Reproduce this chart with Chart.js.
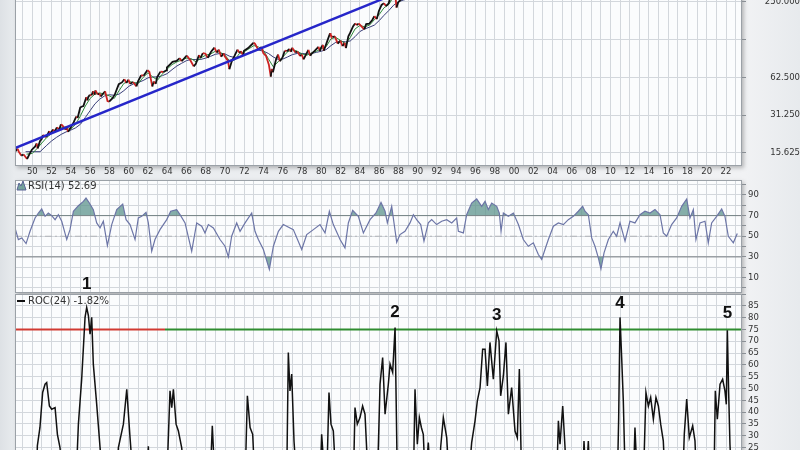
<!DOCTYPE html>
<html>
<head>
<meta charset="utf-8">
<script src="https://cdn.jsdelivr.net/npm/chart.js@4.4.0/dist/chart.umd.min.js"></script>
<style>
  html, body { margin: 0; padding: 0; }
  body {
    width: 800px; height: 450px; overflow: hidden; position: relative;
    background: linear-gradient(to right, #dde1e5 0px, #e8ebee 14px, #f1f2f4 745px, #e7eaed 800px);
  }
  canvas { position: absolute; left: 0; }
  #priceCanvas { top: -50px; }
  #rsiCanvas { top: 170px; }
  #rocCanvas { top: 270px; }
</style>
</head>
<body>
<canvas id="priceCanvas" width="800" height="230"></canvas>
<canvas id="rsiCanvas" width="800" height="130"></canvas>
<canvas id="rocCanvas" width="800" height="260"></canvas>
<script>
// ---------- data (S&P 500, log scale) ----------
var priceYears = [1948.20,1948.45,1948.60,1948.85,1949.10,1949.45,1949.70,1949.95,1950.30,1950.45,1950.55,1950.80,1950.97,
  1951.10,1951.45,1951.75,1951.90,1952.15,1952.35,1952.55,1952.80,1952.97,1953.10,1953.45,1953.60,1953.72,1953.97,
  1954.30,1954.55,1954.70,1954.97,1955.10,1955.30,1955.60,1955.72,1955.80,1955.97,1956.15,1956.30,1956.45,1956.55,1956.80,1956.97,
  1957.10,1957.55,1957.80,1957.97,1958.30,1958.55,1958.97,1959.30,1959.55,1959.75,1959.97,1960.15,1960.45,1960.80,1960.97,
  1961.30,1961.55,1961.95,1962.15,1962.45,1962.60,1962.80,1962.97,1963.30,1963.60,1963.90,1963.97,1964.30,1964.55,1964.97,
  1965.30,1965.50,1965.97,1966.05,1966.40,1966.75,1966.97,1967.30,1967.45,1967.70,1967.97,1968.20,1968.55,1968.90,
  1969.15,1969.35,1969.60,1969.85,1969.97,1970.30,1970.45,1970.70,1970.97,1971.30,1971.50,1971.65,1971.90,1971.97,
  1972.40,1972.60,1972.97,1973.10,1973.45,1973.80,1973.97,1974.25,1974.55,1974.75,1974.85,1974.97,1975.30,1975.50,1975.70,1975.97,
  1976.20,1976.40,1976.70,1976.85,1976.97,1977.30,1977.50,1977.80,1977.97,1978.15,1978.65,1978.85,1978.97,
  1979.30,1979.70,1979.85,1979.97,1980.15,1980.25,1980.60,1980.90,1980.97,1981.15,1981.40,1981.70,1981.97,
  1982.20,1982.40,1982.55,1982.80,1982.97,1983.30,1983.50,1983.70,1983.85,1983.97,1984.45,1984.65,1984.97,
  1985.30,1985.50,1985.75,1985.97,1986.25,1986.50,1986.70,1986.97,1987.30,1987.60,1987.80,1987.97,
  1988.45,1988.90,1989.50,1989.95,1990.45,1990.80,1990.97,1991.95];
var priceValues = [15.9,16.9,16.0,14.9,15.2,14.0,15.3,16.6,17.6,18.6,17.0,19.5,20.2,
  21.7,20.9,23.3,22.4,24.0,23.3,25.0,24.1,26.4,26.0,24.0,24.7,23.0,24.8,
  27.5,30.5,29.7,35.9,36.5,37.0,43.5,41.0,43.5,45.4,45.0,48.5,45.5,49.3,45.6,46.6,
  44.0,48.5,40.5,40.0,42.5,45.5,55.2,57.0,60.5,56.5,59.9,55.5,57.5,53.0,58.1,
  65.0,64.5,71.5,69.0,53.0,58.0,55.5,63.1,69.5,69.0,71.0,75.0,79.5,83.0,84.7,
  89.0,84.0,92.4,93.0,85.5,76.5,80.3,94.0,89.5,97.5,96.5,89.5,100.0,108.0,
  98.5,104.0,91.5,97.0,92.0,85.0,72.7,84.0,92.2,104.0,98.0,101.0,93.0,102.0,
  107.0,111.0,118.0,116.0,104.0,109.0,97.5,93.0,79.0,63.5,73.0,68.6,87.0,95.0,83.9,90.2,
  102.0,101.0,105.2,100.0,107.5,98.5,100.5,92.5,95.1,87.0,103.5,93.0,96.1,
  101.5,109.5,101.5,107.9,113.5,102.0,121.0,140.5,135.8,131.0,132.5,116.0,122.5,
  111.0,118.0,107.0,133.0,140.6,160.0,168.0,163.0,168.0,164.9,150.7,166.0,167.2,
  180.0,192.0,182.0,211.3,236.0,244.0,231.0,242.2,290.0,330.0,225.0,247.1,
  270.0,270.0,340.0,353.4,358.0,304.0,330.0,417.0];

// faster moving average (green)
var fastMaYears = [1949.4,1950.0,1950.5,1951.0,1951.5,1952.0,1952.5,1953.0,1953.5,1954.0,1954.5,1955.0,1955.5,1956.0,1956.5,
  1957.0,1957.5,1958.0,1958.5,1959.0,1959.5,1960.0,1960.5,1961.0,1961.5,1962.0,1962.5,1963.0,1963.5,1964.0,1964.5,
  1965.0,1965.5,1966.0,1966.5,1967.0,1967.5,1968.0,1968.5,1969.0,1969.5,1970.0,1970.5,1971.0,1971.5,1972.0,1972.5,
  1973.0,1973.5,1974.0,1974.5,1975.0,1975.5,1976.0,1976.5,1977.0,1977.5,1978.0,1978.5,1979.0,1979.5,1980.0,1980.5,
  1981.0,1981.5,1982.0,1982.5,1983.0,1983.5,1984.0,1984.5,1985.0,1985.5,1986.0,1986.5,1987.0,1987.5,1988.0,1988.5,
  1989.0,1989.5,1990.0,1990.5,1991.0,1991.5,1992.0];
var fastMaValues = [15.3,15.5,17.0,18.8,20.8,22.3,23.6,24.8,25.2,24.3,26.5,31.0,37.0,42.5,46.0,
  47.0,46.0,44.5,42.5,49.0,56.0,58.0,57.0,56.0,62.5,68.0,63.0,59.5,66.5,73.0,79.0,
  83.0,86.0,89.0,88.0,83.0,89.5,94.0,96.0,101.0,99.0,94.0,84.0,86.0,97.0,100.0,106.0,
  112.0,109.0,102.0,88.0,76.0,83.0,91.0,100.0,104.0,101.0,96.0,94.0,98.0,101.0,106.0,110.0,
  127.0,130.0,123.0,116.0,130.0,152.0,162.0,158.0,163.0,180.0,198.0,224.0,238.0,275.0,272.0,262.0,
  276.0,310.0,338.0,345.0,332.0,370.0,398.0];

// slower moving average (navy)
var slowMaYears = [1949.3,1950.8,1951.5,1952.0,1952.5,1953.0,1953.5,1954.0,1954.5,1955.0,1955.5,1956.0,1956.5,
  1957.0,1957.5,1958.0,1958.5,1959.0,1959.5,1960.0,1960.5,1961.0,1961.5,1962.0,1962.5,1963.0,1963.5,1964.0,1964.5,
  1965.0,1965.5,1966.0,1966.5,1967.0,1967.5,1968.0,1968.5,1969.0,1969.5,1970.0,1970.5,1971.0,1971.5,1972.0,1972.5,
  1973.0,1973.5,1974.0,1974.5,1975.0,1975.5,1976.0,1976.5,1977.0,1977.5,1978.0,1978.5,1979.0,1979.5,1980.0,1980.5,
  1981.0,1981.5,1982.0,1982.5,1983.0,1983.5,1984.0,1984.5,1985.0,1985.5,1986.0,1986.5,1987.0,1987.5,1988.0,1988.5,
  1989.0,1989.5,1990.0,1990.5,1991.0,1991.5,1992.0];
var slowMaValues = [16.0,16.0,18.0,19.5,20.8,22.0,23.0,23.8,24.8,26.5,30.0,34.0,38.5,
  42.0,44.5,45.5,45.0,46.0,49.0,53.0,55.5,57.0,59.0,62.0,63.0,63.0,64.5,67.0,72.0,
  77.0,81.0,85.0,87.0,86.5,87.0,89.0,92.0,95.5,97.0,96.0,92.0,90.0,91.5,94.5,98.5,
  102.0,103.0,101.0,97.0,91.0,87.0,87.5,91.0,95.0,97.0,97.0,96.0,97.0,99.0,101.0,104.0,
  112.0,119.0,121.0,120.0,122.0,132.0,145.0,152.0,157.0,163.0,177.0,195.0,213.0,235.0,250.0,258.0,
  264.0,284.0,305.0,318.0,322.0,340.0,365.0];

// blue trend line
var trendYears = [1948.2, 1992.0];
var trendValues = [17.1, 395];

var priceTicks = [15.625, 31.25, 62.5, 125, 250];
var priceTickLabels = ['15.625', '31.250', '62.500', '', '250.000'];

// RSI(14)
var rsiYears = [1948.20,1948.55,1948.90,1949.35,1949.76,1950.28,1950.63,1950.97,1951.32,1951.66,1952.01,1952.36,1952.70,
  1953.05,1953.57,1953.91,1954.26,1954.78,1955.30,1955.57,1955.92,1956.33,1956.68,1957.03,1957.37,1957.79,1958.24,1958.76,
  1959.38,1959.73,1960.14,1960.66,1961.00,1961.35,1961.80,1962.04,1962.39,1962.73,1963.25,1963.95,1964.36,1964.98,
  1965.33,1965.85,1966.54,1967.06,1967.58,1967.92,1968.27,1968.79,1969.48,1970.00,1970.35,1970.69,1971.21,1971.56,
  1972.08,1972.77,1973.11,1973.46,1973.98,1974.60,1975.02,1975.54,1976.05,1976.40,1977.09,1977.96,1978.48,1979.17,
  1979.86,1980.38,1980.83,1981.24,1981.94,1982.45,1982.80,1983.25,1983.84,1984.36,1985.05,1985.67,1986.19,1986.61,
  1986.85,1987.30,1987.82,
  1988.16,1988.68,1989.20,1989.55,1989.89,1990.31,1990.65,1991.10,1991.45,1991.97,1992.49,1993.01,1993.53,1994.04,
  1994.22,1994.74,1995.08,1995.60,1996.12,1996.64,1996.99,1997.33,1997.68,1998.20,1998.47,1998.65,1998.89,1999.41,
  1999.93,2000.45,2000.96,2001.48,2002.00,2002.52,2002.87,2003.21,2003.56,2004.08,2004.60,2005.12,2005.63,2006.15,
  2006.67,2007.12,2007.36,2007.71,2008.06,2008.40,2008.75,2009.02,2009.34,2009.79,2010.30,2010.65,2011.00,2011.52,
  2012.03,2012.55,2013.07,2013.59,2014.11,2014.63,2015.15,2015.49,2015.84,2016.36,2016.88,2017.40,2017.92,2018.26,
  2018.61,2018.88,2019.30,2019.82,2020.16,2020.51,2021.03,2021.55,2021.89,2022.24,2022.76,2023.17];
var rsiValues = [58.1,46.8,48.4,42.9,54.8,67.7,72.5,76.4,69.3,72.5,70.0,66.1,70.9,
  64.5,46.8,56.4,74.2,79.6,83.8,87.0,82.2,75.8,62.9,58.1,64.5,41.0,61.3,75.8,
  81.2,66.1,61.3,46.8,67.7,69.3,73.2,62.9,35.5,46.8,56.4,66.1,74.2,75.8,
  70.9,62.9,35.5,62.9,59.7,53.2,61.3,58.1,46.8,40.3,30.0,50.0,62.9,54.8,
  62.9,72.5,54.8,46.8,37.1,17.8,40.3,54.8,61.3,59.7,56.4,37.1,51.6,56.4,
  61.3,53.2,74.2,61.3,46.8,38.7,62.9,75.1,69.3,53.2,66.1,72.5,82.8,74.2,
  62.9,79.0,44.2,
  51.6,54.8,62.9,70.9,66.1,61.3,45.2,62.9,66.1,61.3,64.5,66.1,62.9,67.7,
  54.8,53.2,70.9,82.2,86.1,79.0,83.8,75.8,82.2,79.0,72.5,54.8,72.5,69.3,
  72.5,61.3,46.8,40.3,43.6,32.3,27.5,37.1,46.8,59.7,62.9,61.3,66.1,69.3,
  74.2,79.0,74.2,70.9,48.4,40.3,29.1,18.4,33.9,46.8,54.8,50.0,62.9,45.2,
  64.5,62.9,70.9,74.2,72.5,75.8,70.9,53.2,50.0,61.3,67.7,79.0,86.1,67.7,
  75.8,46.8,62.9,64.5,43.6,62.9,69.3,76.4,69.3,50.0,43.6,52.69];
var rsiTicks = [0, 10, 20, 30, 40, 50, 60, 70, 80, 90, 100];
var rsiTickLabels = ['', '10', '', '30', '', '50', '', '70', '', '90', ''];

// ROC(24); values under the visible floor (~23) are not readable, kept low
var rocYears = [1948.20,1950.45,1950.52,1950.79,1951.07,1951.32,1951.49,1951.77,1952.01,1952.36,1952.60,1952.87,1953.22,
  1954.53,1954.78,1955.12,1955.47,1955.64,1955.82,1955.99,1956.16,1956.33,1956.68,1957.03,1957.37,
  1958.76,1958.93,1959.45,1959.80,1960.14,1960.49,1961.90,1962.04,1962.18,
  1963.95,1964.29,1964.47,1964.64,1964.92,1965.16,1965.50,1965.85,1968.44,1968.68,1968.96,
  1972.08,1972.32,1972.60,1972.87,1973.11,1976.40,1976.57,1976.74,1976.92,1977.16,1977.44,
  1979.86,1980.03,1980.38,1980.55,1980.79,1981.00,1981.24,1981.52,
  1983.32,1983.49,1983.73,1984.01,1984.28,1984.53,1984.87,
  1985.81,1986.09,1986.36,1986.61,1986.95,1987.13,1987.40,1987.65,1987.89,
  1989.55,1989.72,1989.96,1990.17,1990.38,1990.58,1990.79,1991.10,1991.35,
  1992.25,1992.38,1992.66,1993.01,1993.28,
  1995.25,1995.60,1995.95,1996.19,1996.47,1996.74,1996.99,1997.23,1997.50,1997.85,1998.20,1998.44,1998.61,1998.89,
  1999.16,1999.41,1999.75,2000.10,2000.34,2000.55,2000.79,
  2004.42,2004.60,2004.77,2005.05,2005.29,2005.46,2007.12,2007.26,2007.47,2007.71,2007.88,
  2010.72,2010.86,2011.00,2011.17,2011.34,2011.55,2012.38,2012.55,2012.80,
  2013.42,2013.69,2013.94,2014.18,2014.46,2014.73,2014.98,2015.22,2015.49,2015.70,
  2017.50,2017.67,2017.92,2018.19,2018.54,2018.78,2018.95,
  2020.75,2020.89,2021.10,2021.38,2021.65,2021.89,2022.03,2022.14,2022.27,2022.41,2022.59,2023.17];
var rocValues = [10,10,25.7,33.5,48.3,51.8,52.5,42.6,41.2,41.9,30.6,25.0,10,
  10,34.9,53.9,80.1,84.3,80.8,73.0,80.1,60.3,43.3,25.0,10,
  10,25.0,34.9,49.7,29.2,10,10,25.5,10,
  10,49.0,41.9,49.7,34.9,32.0,25.0,10,10,34.2,10,
  10,46.9,33.5,30.6,10,10,65.2,49.0,56.1,27.8,10,
  10,30.6,10,10,48.3,34.9,32.0,10,
  10,41.9,34.9,37.7,42.6,39.1,10,
  10,51.8,63.1,39.1,51.8,60.3,56.8,75.8,10,
  10,49.7,26.4,37.7,33.5,30.6,10,27.1,10,
  10,25.0,37.7,29.2,10,
  10,27.1,36.3,44.8,50.4,66.6,66.6,51.1,69.5,53.9,74.4,70.2,46.9,55.3,
  69.5,39.1,50.4,32.0,29.2,58.2,10,
  10,36.3,26.4,42.6,25.0,10,10,27.8,10,27.8,10,
  10,37.7,80.1,63.1,44.8,10,10,33.5,10,
  10,48.3,42.6,46.2,37.0,46.2,42.6,34.9,27.8,10,
  10,30.6,45.5,29.2,34.2,27.8,10,
  10,49.0,37.0,51.8,53.9,49.0,43.3,74.7,49.0,26.4,10,-1.82];
var rocLevel = 75;
var rocLevelSplit = 1963.77;   // red left of here, green right of here

// numbered peaks
var peakYears = [1955.64, 1987.65, 1998.20, 2011.00, 2022.14];
var peakValues = [84.3, 75.8, 74.4, 80.1, 74.7];
var peakLabels = ['1', '2', '3', '4', '5'];

var X_MIN = 1948.2, X_MAX = 2023.66;
var yearTicks = [];
for (var yr = 1949; yr <= 2023; yr++) yearTicks.push(yr);

// ---------- helpers ----------
var FONT = 'DejaVu Sans';

function pts(xs, ys) {
    var out = [];
    for (var i = 0; i < xs.length; i++) out.push({x: xs[i], y: ys[i]});
    return out;
}

function xAxis(showLabels) {
    return {
        type: 'linear', min: X_MIN, max: X_MAX,
        afterBuildTicks: function (scale) {
            scale.ticks = yearTicks.map(function (v) { return {value: v}; });
        },
        afterFit: function (scale) { scale.height = showLabels ? 14 : 0; },
        grid: {color: '#d3d7dc', drawTicks: false},
        border: {display: false},
        ticks: {
            display: showLabels, autoSkip: false, maxRotation: 0, padding: 2,
            color: '#333', font: {family: FONT, size: 8.5, lineHeight: 1},
            callback: function (v) { return v % 2 === 0 ? String(v % 100).padStart(2, '0') : ''; }
        }
    };
}

var panelPlugin = {
    id: 'panel',
    beforeDraw: function (chart) {
        var a = chart.chartArea, ctx = chart.ctx;
        ctx.save();
        ctx.shadowColor = 'rgba(0,0,0,0.25)';
        ctx.shadowBlur = 4;
        ctx.shadowOffsetX = 2;
        ctx.shadowOffsetY = 2;
        ctx.fillStyle = '#fbfcfd';
        ctx.fillRect(a.left, a.top, a.right - a.left, a.bottom - a.top);
        ctx.restore();
    },
    afterDraw: function (chart) {
        var a = chart.chartArea, ctx = chart.ctx;
        ctx.save();
        ctx.strokeStyle = '#9ba1a7';
        ctx.lineWidth = 1;
        ctx.strokeRect(a.left + 0.5, a.top + 0.5, a.right - a.left - 1, a.bottom - a.top - 1);
        ctx.restore();
    }
};

var baseOpts = {
    responsive: false, animation: false, events: [],
    plugins: {legend: {display: false}, tooltip: {enabled: false}}
};

function opts(extra) {
    return Object.assign({}, baseOpts, extra);
}

// ---------- price panel ----------
new Chart(document.getElementById('priceCanvas'), {
    type: 'line',
    data: {
        datasets: [
            {data: pts(trendYears, trendValues), borderColor: '#2626c9', borderWidth: 2.5, pointRadius: 0, order: 0},
            {data: pts(priceYears, priceValues), borderWidth: 1.8, pointRadius: 0, order: 1,
                segment: {borderColor: function (c) { return c.p1.parsed.y < c.p0.parsed.y ? '#cc2222' : '#111111'; }}},
            {data: pts(fastMaYears, fastMaValues), borderColor: '#2f8a3a', borderWidth: 1, pointRadius: 0, order: 2},
            {data: pts(slowMaYears, slowMaValues), borderColor: '#383d78', borderWidth: 1, pointRadius: 0, order: 3}
        ]
    },
    options: opts({
        layout: {padding: {left: 15, right: 0, top: 14, bottom: 0}},
        scales: {
            x: xAxis(true),
            y: {
                type: 'logarithmic', position: 'right', min: 12.31, max: 500,
                afterBuildTicks: function (scale) {
                    scale.ticks = priceTicks.map(function (v) { return {value: v}; });
                },
                afterFit: function (scale) { scale.width = 58; },
                grid: {color: '#d3d7dc', tickLength: 4, tickColor: '#8a8f95'},
                border: {display: false},
                ticks: {
                    autoSkip: false, crossAlign: 'far', padding: 4, color: '#333',
                    font: {family: FONT, size: 8.5, lineHeight: 1},
                    callback: function (v) { return priceTickLabels[priceTicks.indexOf(v)]; }
                }
            }
        }
    }),
    plugins: [panelPlugin]
});

// ---------- RSI panel ----------
function flatLine(y) { return [{x: X_MIN, y: y}, {x: X_MAX, y: y}]; }

new Chart(document.getElementById('rsiCanvas'), {
    type: 'line',
    data: {
        datasets: [
            {data: pts(rsiYears, rsiValues), borderColor: '#6c75a6', borderWidth: 1.2, pointRadius: 0, order: 0,
                fill: {target: {value: 70}, above: 'rgba(94,148,140,0.75)', below: 'rgba(0,0,0,0)'}},
            {data: pts(rsiYears, rsiValues), borderColor: 'rgba(0,0,0,0)', borderWidth: 0, pointRadius: 0, order: 1,
                fill: {target: {value: 30}, above: 'rgba(0,0,0,0)', below: 'rgba(94,148,140,0.75)'}},
            {data: flatLine(rsiTicks[7]), borderColor: '#7b7f84', borderWidth: 1, pointRadius: 0, order: 2},
            {data: flatLine(rsiTicks[3]), borderColor: '#7b7f84', borderWidth: 1, pointRadius: 0, order: 2},
            {data: flatLine(rsiTicks[5]), borderColor: '#b2b5b9', borderWidth: 1.2, borderDash: [7, 3, 2, 3], pointRadius: 0, order: 2}
        ]
    },
    options: opts({
        layout: {padding: {left: 15, right: 0, top: 10, bottom: 7}},
        scales: {
            x: xAxis(false),
            y: {
                position: 'right', min: -5, max: 104.5,
                afterBuildTicks: function (scale) {
                    scale.ticks = rsiTicks.map(function (v) { return {value: v}; });
                },
                afterFit: function (scale) { scale.width = 58; },
                grid: {color: '#d3d7dc', tickLength: 4, tickColor: '#8a8f95'},
                border: {display: false},
                ticks: {
                    autoSkip: false, padding: 2, color: '#333', font: {family: FONT, size: 8.5, lineHeight: 1},
                    callback: function (v) { return rsiTickLabels[rsiTicks.indexOf(v)]; }
                }
            }
        }
    }),
    plugins: [panelPlugin, {
        id: 'rsiLegend',
        afterDraw: function (chart) {
            var a = chart.chartArea, ctx = chart.ctx;
            ctx.save();
            ctx.beginPath();
            ctx.moveTo(a.left + 2, a.top + 10);
            ctx.lineTo(a.left + 4, a.top + 3);
            ctx.lineTo(a.left + 6, a.top + 6);
            ctx.lineTo(a.left + 8, a.top + 1);
            ctx.lineTo(a.left + 11, a.top + 10);
            ctx.closePath();
            ctx.fillStyle = 'rgba(94,148,140,0.85)';
            ctx.fill();
            ctx.strokeStyle = '#5a6395';
            ctx.lineWidth = 1;
            ctx.stroke();
            ctx.fillStyle = '#333';
            ctx.font = '10px "' + FONT + '"';
            ctx.textBaseline = 'middle';
            ctx.fillText('RSI(14) ' + rsiValues[rsiValues.length - 1].toFixed(2), a.left + 13, a.top + 6);
            ctx.restore();
        }
    }]
});

// ---------- ROC panel ----------
new Chart(document.getElementById('rocCanvas'), {
    type: 'line',
    data: {
        datasets: [
            {data: pts(rocYears, rocValues), borderColor: '#111111', borderWidth: 1.5, pointRadius: 0, order: 0},
            {data: [{x: X_MIN, y: rocLevel}, {x: rocLevelSplit, y: rocLevel}], borderColor: '#d23a32', borderWidth: 2, pointRadius: 0, order: 1},
            {data: [{x: rocLevelSplit, y: rocLevel}, {x: X_MAX, y: rocLevel}], borderColor: '#2f8c2f', borderWidth: 2, pointRadius: 0, order: 1}
        ]
    },
    options: opts({
        layout: {padding: {left: 15, right: 0, top: 24, bottom: 23.4}},
        scales: {
            x: xAxis(false),
            y: {
                position: 'right', min: 0, max: 90,
                afterFit: function (scale) { scale.width = 58; },
                grid: {color: '#d3d7dc', tickLength: 4, tickColor: '#8a8f95'},
                border: {display: false},
                ticks: {
                    autoSkip: false, stepSize: 5, padding: 2, color: '#333', font: {family: FONT, size: 8.5, lineHeight: 1},
                    callback: function (v) { return v >= 90 ? '' : String(v); }
                }
            }
        }
    }),
    plugins: [panelPlugin, {
        id: 'rocNotes',
        afterDraw: function (chart) {
            var a = chart.chartArea, ctx = chart.ctx;
            var xs = chart.scales.x, ys = chart.scales.y;
            var lift = [23, 15, 16, 14, 17];
            ctx.save();
            // legend
            ctx.strokeStyle = '#111';
            ctx.lineWidth = 2;
            ctx.beginPath();
            ctx.moveTo(a.left + 2, a.top + 7);
            ctx.lineTo(a.left + 10, a.top + 7);
            ctx.stroke();
            ctx.fillStyle = '#333';
            ctx.font = '10px "' + FONT + '"';
            ctx.textBaseline = 'middle';
            ctx.fillText('ROC(24) ' + rocValues[rocValues.length - 1].toFixed(2) + '%', a.left + 13, a.top + 7);
            // numbered peaks
            ctx.fillStyle = '#111';
            ctx.font = 'bold 17px "Liberation Sans", Arial, sans-serif';
            ctx.textAlign = 'center';
            for (var i = 0; i < peakLabels.length; i++) {
                ctx.fillText(peakLabels[i], xs.getPixelForValue(peakYears[i]), ys.getPixelForValue(peakValues[i]) - lift[i]);
            }
            ctx.restore();
        }
    }]
});
</script>
</body>
</html>
